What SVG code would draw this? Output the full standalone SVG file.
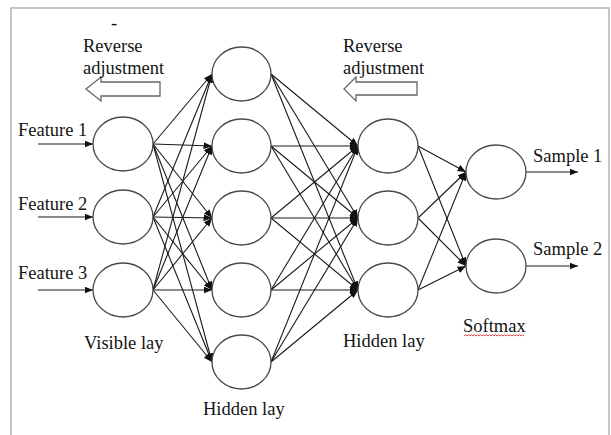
<svg xmlns="http://www.w3.org/2000/svg" width="611" height="435" viewBox="0 0 611 435">
<style>
.frame{fill:none;stroke:#b4b4b4;stroke-width:1.5}
.node{fill:#fff;stroke:#4a4a4a;stroke-width:1.3}
.edge{stroke:#1a1a1a;stroke-width:1.1;fill:none}
.lbl{font-family:"Liberation Serif","Times New Roman",serif;font-size:18.5px;fill:#141414}
.hollow{fill:#fff;stroke:#666;stroke-width:1.3}
.squig{fill:none;stroke:#e03030;stroke-width:0.9}
</style>
<defs>
<marker id="ah" markerUnits="userSpaceOnUse" markerWidth="10" markerHeight="8" refX="8.5" refY="3.5" orient="auto">
<path d="M0,0 L8.5,3.5 L0,7 z" fill="#111"/>
</marker>
</defs>
<rect width="611" height="435" fill="#fff"/>
<path class="frame" d="M11,440 L11,8 L609,8 L609,440"/>

<g id="connectors" class="edge" marker-end="url(#ah)">
<line x1="38" y1="144" x2="93" y2="144"/>
<line x1="38" y1="217" x2="93" y2="217"/>
<line x1="38" y1="290" x2="93" y2="290"/>

<line x1="153" y1="144" x2="212" y2="74"/>
<line x1="153" y1="144" x2="212" y2="146"/>
<line x1="153" y1="144" x2="212" y2="218"/>
<line x1="153" y1="144" x2="212" y2="290"/>
<line x1="153" y1="144" x2="212" y2="362"/>
<line x1="153" y1="217" x2="212" y2="74"/>
<line x1="153" y1="217" x2="212" y2="146"/>
<line x1="153" y1="217" x2="212" y2="218"/>
<line x1="153" y1="217" x2="212" y2="290"/>
<line x1="153" y1="217" x2="212" y2="362"/>
<line x1="153" y1="290" x2="212" y2="74"/>
<line x1="153" y1="290" x2="212" y2="146"/>
<line x1="153" y1="290" x2="212" y2="218"/>
<line x1="153" y1="290" x2="212" y2="290"/>
<line x1="153" y1="290" x2="212" y2="362"/>

<line x1="271" y1="74" x2="358" y2="146"/>
<line x1="271" y1="74" x2="358" y2="218"/>
<line x1="271" y1="74" x2="358" y2="290"/>
<line x1="271" y1="146" x2="358" y2="146"/>
<line x1="271" y1="146" x2="358" y2="218"/>
<line x1="271" y1="146" x2="358" y2="290"/>
<line x1="271" y1="218" x2="358" y2="146"/>
<line x1="271" y1="218" x2="358" y2="218"/>
<line x1="271" y1="218" x2="358" y2="290"/>
<line x1="271" y1="290" x2="358" y2="146"/>
<line x1="271" y1="290" x2="358" y2="218"/>
<line x1="271" y1="290" x2="358" y2="290"/>
<line x1="271" y1="362" x2="358" y2="146"/>
<line x1="271" y1="362" x2="358" y2="218"/>
<line x1="271" y1="362" x2="358" y2="290"/>

<line x1="418" y1="146" x2="466" y2="172"/>
<line x1="418" y1="146" x2="466" y2="266"/>
<line x1="418" y1="218" x2="466" y2="172"/>
<line x1="418" y1="218" x2="466" y2="266"/>
<line x1="418" y1="290" x2="466" y2="172"/>
<line x1="418" y1="290" x2="466" y2="266"/>

<line x1="526" y1="172" x2="578" y2="172"/>
<line x1="526" y1="266" x2="578" y2="266"/>
</g>

<g id="visible-layer">
<ellipse class="node" cx="123" cy="144" rx="30" ry="27"/>
<ellipse class="node" cx="123" cy="217" rx="30" ry="27"/>
<ellipse class="node" cx="123" cy="290" rx="30" ry="27"/>
</g>
<g id="hidden-layer-1">
<ellipse class="node" cx="241.5" cy="74" rx="29.5" ry="27"/>
<ellipse class="node" cx="241.5" cy="146" rx="29.5" ry="27"/>
<ellipse class="node" cx="241.5" cy="218" rx="29.5" ry="27"/>
<ellipse class="node" cx="241.5" cy="290" rx="29.5" ry="27"/>
<ellipse class="node" cx="241.5" cy="362" rx="29.5" ry="27"/>
</g>
<g id="hidden-layer-2">
<ellipse class="node" cx="388" cy="146" rx="30" ry="27"/>
<ellipse class="node" cx="388" cy="218" rx="30" ry="27"/>
<ellipse class="node" cx="388" cy="290" rx="30" ry="27"/>
</g>
<g id="softmax-layer">
<ellipse class="node" cx="496" cy="172" rx="30" ry="27"/>
<ellipse class="node" cx="496" cy="266" rx="30" ry="27"/>
</g>

<g id="reverse-left">
<polygon class="hollow" points="86,89 101,77 101,82 160,82 160,96 101,96 101,101"/>
<text class="lbl" x="111" y="29">-</text>
<text class="lbl" x="83" y="52">Reverse</text>
<text class="lbl" x="83" y="74">adjustment</text>
</g>
<g id="reverse-right">
<polygon class="hollow" points="344,89 356,77 356,82 417,82 417,95 356,95 356,101"/>
<text class="lbl" x="343" y="52">Reverse</text>
<text class="lbl" x="343" y="74">adjustment</text>
</g>

<g id="labels">
<text class="lbl" x="18" y="136">Feature 1</text>
<text class="lbl" x="18" y="210">Feature 2</text>
<text class="lbl" x="18" y="279">Feature 3</text>
<text class="lbl" x="84" y="349">Visible lay</text>
<text class="lbl" x="203" y="415">Hidden lay</text>
<text class="lbl" x="343" y="347">Hidden lay</text>
<text class="lbl" x="463" y="332">Softmax</text>
<text class="lbl" x="533" y="162">Sample 1</text>
<text class="lbl" x="533" y="255">Sample 2</text>
</g>
<path class="squig" d="M464,336 l1.5,-1.3 l1.5,1.3 l1.5,-1.3 l1.5,1.3 l1.5,-1.3 l1.5,1.3 l1.5,-1.3 l1.5,1.3 l1.5,-1.3 l1.5,1.3 l1.5,-1.3 l1.5,1.3 l1.5,-1.3 l1.5,1.3 l1.5,-1.3 l1.5,1.3 l1.5,-1.3 l1.5,1.3 l1.5,-1.3 l1.5,1.3 l1.5,-1.3 l1.5,1.3 l1.5,-1.3 l1.5,1.3 l1.5,-1.3 l1.5,1.3 l1.5,-1.3 l1.5,1.3 l1.5,-1.3 l1.5,1.3 l1.5,-1.3 l1.5,1.3 l1.5,-1.3 l1.5,1.3 l1.5,-1.3 l1.5,1.3 l1.5,-1.3 l1.5,1.3 l1.5,-1.3 l1.5,1.3"/>
</svg>
